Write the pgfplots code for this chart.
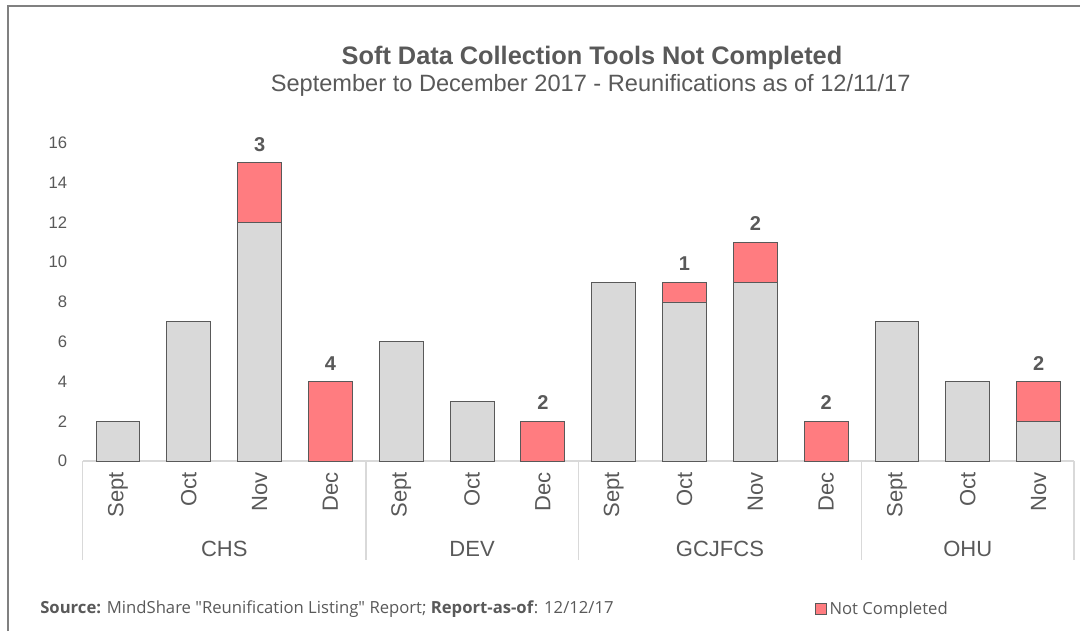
\documentclass[border=0pt]{standalone}
\usepackage{pgfplots}
\pgfplotsset{compat=1.18}
\usepackage{fontspec}
\setmainfont{Liberation Sans}
\newfontfamily\srcfont{Open Sans}
\definecolor{txt}{HTML}{595959}
\definecolor{barg}{HTML}{D9D9D9}
\definecolor{barr}{HTML}{FF7C80}
\definecolor{edge}{HTML}{595959}
\definecolor{sep}{HTML}{D9D9D9}
\pgfplotsset{common/.style={
  at={(61.95pt,127.5pt)}, anchor=south west,
  scale only axis, width=743.55pt, height=238.5pt,
  xmin=-0.5, xmax=13.5, ymin=0, ymax=16,
  /pgf/number format/assume math mode=true,
  clip=false}}
\begin{document}
\begin{tikzpicture}[x=1pt,y=1pt]
\useasboundingbox (0,0) rectangle (810,473.25);
\draw[draw=gray, line width=1.5pt] (6,0) -- (6,468.4) -- (810,468.4);
\begin{axis}[
  common,
  ybar stacked, bar width=0.62,
  ytick={0,2,...,16},
  xtick={0,...,13},
  xticklabels={Sept,Oct,Nov,Dec,Sept,Oct,Dec,Sept,Oct,Nov,Dec,Sept,Oct,Nov},
  xticklabel style={rotate=90, anchor=east, font=\fontsize{16.5}{17}\selectfont, text=txt},
  xticklabel shift=5pt,
  yticklabel style={font=\fontsize{12.5}{13}\selectfont, text=txt, xshift=-8pt},
  major tick length=0pt,
  axis line style={draw=none},
  legend style={at={(0.7388,-0.465)}, anchor=west, draw=none, fill=none,
    font=\srcfont\fontsize{12.5}{13}\selectfont, text=txt, inner sep=0pt,
    /tikz/every even column/.append style={column sep=2pt}},
  legend image code/.code={\draw[#1] (0pt,-4pt) rectangle (8pt,4pt);},
]
\addplot[fill=barg, draw=edge, line width=0.7pt, forget plot] coordinates {
 (0,2) (1,7) (2,12) (3,0) (4,6) (5,3) (6,0) (7,9) (8,8) (9,9) (10,0) (11,7) (12,4) (13,2)};
\addplot[fill=barr, draw=edge, line width=0.7pt] coordinates {
 (0,0) (1,0) (2,3) (3,4) (4,0) (5,0) (6,2) (7,0) (8,1) (9,2) (10,2) (11,0) (12,0) (13,2)};
\addlegendentry{Not Completed}
\draw[sep, line width=1pt] (axis cs:-0.5,0) -- (axis cs:13.5,0);
\draw[sep, line width=1pt] (axis cs:-0.5,0) -- (axis cs:-0.5,-4.98);
\draw[sep, line width=1pt] (axis cs:3.5,0) -- (axis cs:3.5,-4.98);
\draw[sep, line width=1pt] (axis cs:6.5,0) -- (axis cs:6.5,-4.98);
\draw[sep, line width=1pt] (axis cs:10.5,0) -- (axis cs:10.5,-4.98);
\draw[sep, line width=1pt] (axis cs:13.5,0) -- (axis cs:13.5,-4.98);
\node[font=\fontsize{16.5}{17}\selectfont, text=txt] at (axis cs:1.5,-4.43) {CHS};
\node[font=\fontsize{16.5}{17}\selectfont, text=txt] at (axis cs:5,-4.43) {DEV};
\node[font=\fontsize{16.5}{17}\selectfont, text=txt] at (axis cs:8.5,-4.43) {GCJFCS};
\node[font=\fontsize{16.5}{17}\selectfont, text=txt] at (axis cs:12,-4.43) {OHU};
\end{axis}
% data labels (Not Completed values) above the stacked bars
\begin{axis}[common, hide axis]
\addplot[only marks, mark=none, point meta=explicit symbolic,
  nodes near coords={\pgfplotspointmeta},
  nodes near coords style={font=\bfseries\fontsize{15}{15}\selectfont, text=txt, anchor=south, yshift=5pt}]
 coordinates {(2,15) [3] (3,4) [4] (6,2) [2] (8,9) [1] (9,11) [2] (10,2) [2] (13,4) [2]};
\end{axis}
\node[font=\bfseries\fontsize{19}{19}\selectfont, text=txt] at (444,430) {Soft Data Collection Tools Not Completed};
\node[font=\fontsize{17.7}{18}\selectfont, text=txt] at (443,409.5) {September to December 2017 - Reunifications as of 12/11/17};
\node[anchor=west, inner sep=0pt, font=\srcfont\fontsize{12.5}{13}\selectfont, text=txt] at (30,16.5)
  {\textbf{Source:} MindShare "Reunification Listing" Report; \textbf{Report-as-of}: 12/12/17};
\end{tikzpicture}
\end{document}
